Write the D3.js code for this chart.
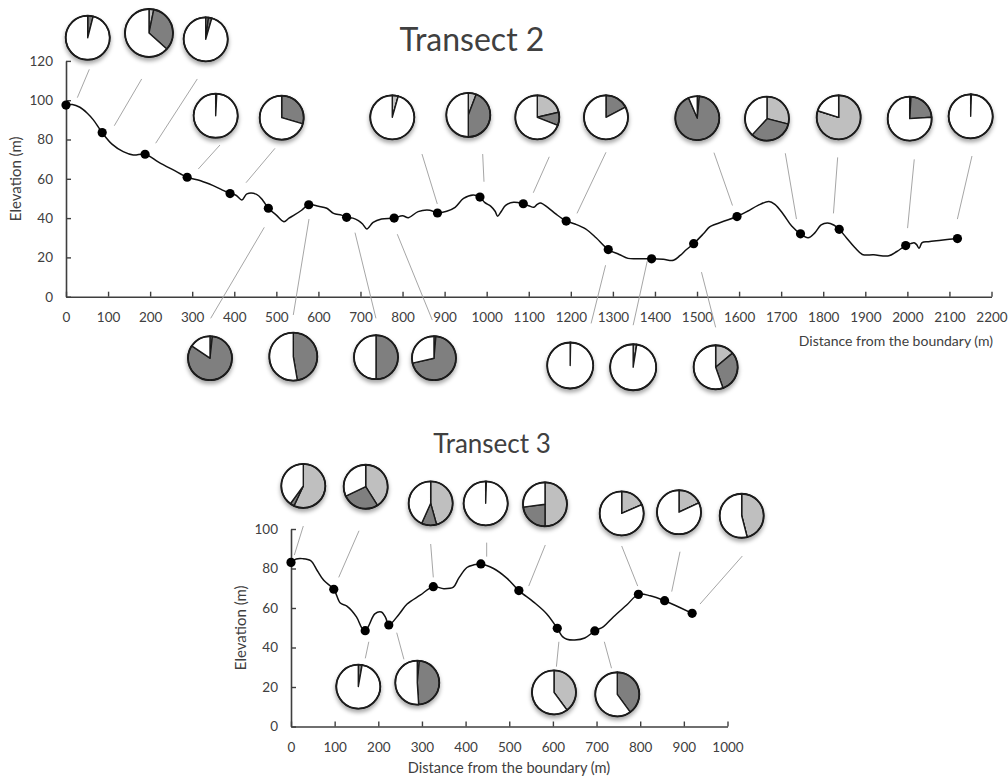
<!DOCTYPE html>
<html>
<head>
<meta charset="utf-8">
<script src="https://cdn.jsdelivr.net/npm/d3@7"></script>
<style>
  body { margin: 0; background: #fff; }
  svg { display: block; }
  text { font-family: Lato, "Open Sans", sans-serif; fill: #404040; }
</style>
</head>
<body>
<svg id="chart" width="1008" height="778"></svg>
<script>
// ---------------- Transect 2 ----------------
// sampled plots along the transect: distance (m) and elevation (m)
const t2SampleDist = [0, 86, 188, 288, 390, 481, 577, 667, 780, 883, 984, 1087, 1189, 1289, 1392, 1492, 1595, 1746, 1838, 1996, 2119];
const t2SampleElev = [97.5, 83.5, 72.5, 60.8, 52.5, 45, 46.8, 40.4, 40, 42.6, 50.7, 47.3, 38.5, 24, 19.3, 27, 40.8, 32, 34.3, 26, 29.6];
// composition at each plot (%): [light grey, dark grey, white]
const t2Composition = [
  [0, 4, 96], [3.2, 33.5, 63.3], [2, 2.5, 95.5], [0, 0.8, 99.2], [0, 29.5, 70.5],
  [1.7, 82.7, 15.6], [0, 47.3, 52.7], [0, 50, 50], [1.4, 70, 28.6], [4.4, 0, 95.6],
  [5.8, 44.2, 50], [21.3, 9.7, 69], [0, 17.3, 82.7], [0, 0.3, 99.7], [2.5, 0, 97.5],
  [13.9, 30.7, 55.4], [1.5, 92, 6.5], [29, 32.8, 38.2], [79.8, 0, 20.2], [1, 23, 76], [0, 0.5, 99.5]
];
// terrain profile vertices [distance, elevation]
const t2Profile = [
  [0,97.5],[15,97.8],[33,96.4],[50,93.5],[65,90],[86,83.5],[110,77.5],[136,73.8],[160,72.1],[188,72.5],
  [220,68.5],[255,64.5],[288,60.8],[320,59],[350,56.5],[375,54],[390,52.5],[405,51.5],[418,49.2],[430,52.3],
  [453,52.1],[468,49],[481,45],[500,41.5],[518,38.2],[530,40],[543,41.6],[560,44],[577,46.8],[600,46],
  [620,45],[636,42.4],[655,41.5],[667,40.4],[682,40],[695,38.7],[705,37],[715,34.5],[730,37.8],[750,39.5],
  [780,40],[800,41.2],[814,40.2],[837,43.3],[865,44],[883,42.6],[905,43.5],[925,45.5],[945,50],[968,51.8],
  [984,50.7],[995,48],[1010,46],[1020,43.5],[1026,41],[1035,43.5],[1045,46.5],[1064,48.1],[1087,47.3],[1100,46.3],
  [1112,45.5],[1120,47],[1128,47.7],[1145,45.5],[1165,42],[1189,38.5],[1210,37],[1235,34.5],[1260,30],[1289,24],
  [1315,21.5],[1336,19.5],[1360,19.3],[1392,19.3],[1420,19],[1444,18.5],[1460,21],[1475,24],[1492,27],[1515,32],
  [1530,35.5],[1544,36.9],[1565,38.5],[1595,40.8],[1620,43.5],[1645,46.5],[1671,48.5],[1685,47],[1705,42],[1725,36],
  [1746,32],[1764,30],[1780,32.5],[1795,36.5],[1810,37.5],[1825,36.5],[1838,34.3],[1855,30],[1875,25],[1893,21.5],
  [1920,21.3],[1956,20.8],[1975,23],[1996,26],[2008,27],[2016,27.5],[2022,26.5],[2028,24.6],[2035,27.5],[2050,28],
  [2080,28.7],[2100,29.2],[2119,29.6]
];
const t2XTicks = d3.range(0, 2201, 100);
const t2YTicks = d3.range(0, 121, 20);

// ---------------- Transect 3 ----------------
const t3SampleDist = [0, 98, 170, 224, 326, 435, 522, 610, 696, 796, 856, 919];
const t3SampleElev = [83.1, 69.5, 48.5, 51.4, 70.8, 82.3, 68.8, 49.7, 48.4, 66.9, 63.7, 57.3];
const t3Composition = [
  [57, 3, 40], [41, 27, 32], [0, 2.8, 97.2], [1.5, 47.5, 51], [45.7, 11, 43.3], [0, 0.5, 99.5],
  [50, 23, 27], [39.9, 0, 60.1], [0, 40, 60], [18.5, 0, 81.5], [18, 0, 82], [46, 0, 54]
];
const t3Profile = [
  [0,83.1],[12,84.8],[26,85],[45,84],[60,79],[75,74],[98,69.5],[113,62.5],[128,61],[150,55.5],
  [162,50],[170,48.5],[178,51],[192,57],[207,58],[217,55],[224,51.4],[248,57],[266,62],[296,66.5],
  [326,70.8],[350,69.8],[372,70.6],[384,75],[403,80.5],[418,81.8],[435,82.3],[464,80],[495,75],[522,68.8],
  [556,63],[586,57],[610,49.7],[622,45.5],[632,44.2],[650,43.8],[673,44.8],[696,48.4],[716,50.6],[739,55.6],
  [769,61.5],[796,66.9],[823,66.2],[856,63.7],[919,57.3]
];
const t3XTicks = d3.range(0, 1001, 100);
const t3YTicks = d3.range(0, 101, 20);

// ---------------- annotation layout (in axis units) ----------------
// pie centre for each plot, and its leader line [[d,e],[d,e]]
const t2PieAt = [
  [51.6,131.8],[197.3,134.2],[332.1,131],[355.8,92.1],[512.7,91.1],[342.3,-31.3],[540.3,-30.5],[736.9,-30.8],
  [874.7,-31.3],[775.6,91.3],[956.3,92.5],[1120.3,91.3],[1283.6,91.3],[1198.5,-35],[1348.2,-35.9],[1544.3,-35.9],
  [1500.6,90.9],[1666.3,90.6],[1836.7,91.3],[2005.5,90.6],[2150.5,91.8]
];
const t2PieRadius = [22,24,22,22,22,22,24,22,22,22,22,22,22,23,23,22,22,22,22,22,22];
const t2Leaders = [
  [[55.4,115.7],[27,101.3]],[[179.9,110.8],[114.8,87]],[[312.1,110.8],[213.2,78.1]],[[366,77.2],[314.5,65]],
  [[496.8,75.5],[427.9,58]],[[471.4,35.3],[343.9,-11]],[[577.6,39.5],[540.3,-9.3]],[[687,32.6],[736.8,-11]],
  [[787.5,31.8],[870.7,-11.9]],[[846.2,72.6],[882.6,47.2]],[[990.5,72.6],[993.6,58.5]],[[1148.8,71.2],[1110.8,52.9]],
  [[1283.6,73.5],[1214.7,42.4]],[[1282.6,16],[1248.2,-13.6]],[[1381.7,18.1],[1348.2,-14.5]],[[1510.6,12.5],[1544.3,-15.6]],
  [[1540.3,73.3],[1584.3,46.4]],[[1709.8,73],[1736.4,39.5]],[[1834.3,70.9],[1824.3,42.4]],[[2016.4,69.9],[2000.5,34.9]],
  [[2153.6,71.6],[2118.9,39.5]]
];
const t3PieAt = [
  [28.2,121.8],[171.1,121.4],[154.2,20.2],[289.3,22.2],[320,113],[446,113],
  [581.9,112.5],[602.5,17.3],[747.5,16.3],[757.6,107.9],[888.9,108.5],[1032.5,106.7]
];
const t3PieRadius = [22,22,22,22,22,22,22,22,22,22,22,22];
const t3Leaders = [
  [[28.2,101.5],[7.6,86.8]],[[155.8,99.1],[109.3,75.5]],[[178.2,42.9],[170.2,34.5]],[[242.2,47.5],[258.7,34]],
  [[320,92.4],[326,75.5]],[[448.3,93.1],[448.3,86]],[[582.6,91.9],[544.6,71.1]],[[613.7,42.9],[608,30.3]],
  [[717.8,42.9],[734.3,29.5]],[[757.6,91.4],[794.3,71.1]],[[891.2,88.5],[872.2,68.3]],[[1033.9,86.3],[937,62]]
];

const sliceColors = ['#bfbfbf', '#7f7f7f', '#ffffff'];
const axisColor = '#3f3f3f';

const svg = d3.select('#chart');
const defs = svg.append('defs');
const shadow = defs.append('filter').attr('id', 'pieShadow')
  .attr('x', '-40%').attr('y', '-40%').attr('width', '180%').attr('height', '190%');
shadow.append('feDropShadow').attr('dx', 0).attr('dy', 3).attr('stdDeviation', 2.2)
  .attr('flood-color', '#000').attr('flood-opacity', 0.35);

function drawTransect(o) {
  const x = d3.scaleLinear().domain([0, o.xMax]).range(o.xRange);
  const y = d3.scaleLinear().domain([0, o.yMax]).range(o.yRange);
  const g = svg.append('g');
  const fmt = d3.format('d');

  // axes with inside ticks
  const gx = g.append('g').attr('transform', `translate(0,${y(0)})`)
    .call(d3.axisBottom(x).tickValues(o.xTicks).tickFormat(fmt).tickSizeInner(-5).tickSizeOuter(0));
  gx.selectAll('text').attr('y', 25).attr('dy', null);
  const gy = g.append('g').attr('transform', `translate(${x(0)},0)`)
    .call(d3.axisLeft(y).tickValues(o.yTicks).tickFormat(fmt).tickSizeInner(-5).tickSizeOuter(0).tickPadding(13));
  [gx, gy].forEach(a => {
    a.select('.domain').attr('stroke', axisColor).attr('stroke-width', 1.6);
    a.selectAll('.tick line').attr('stroke', axisColor).attr('stroke-width', 1.4);
    a.selectAll('text').attr('fill', '#404040')
      .style('font-family', 'Lato, sans-serif').style('font-size', '13.5px');
  });

  // titles
  g.append('text').attr('x', o.titleX).attr('y', o.titleY).attr('text-anchor', 'middle')
    .style('font-size', o.titleSize + 'px').attr('fill', '#262626').text(o.title);
  g.append('text').attr('transform', `translate(${o.yTitleX},${(y(0) + y(o.yMax)) / 2}) rotate(-90)`)
    .attr('text-anchor', 'middle').style('font-size', '15px').text('Elevation (m)');
  g.append('text').attr('x', o.xTitleX).attr('y', o.xTitleY).attr('text-anchor', o.xTitleAnchor)
    .style('font-size', o.xTitleSize + 'px').text('Distance from the boundary (m)');

  // leader lines
  g.append('g').selectAll('line').data(o.leaders).join('line')
    .attr('x1', d => x(d[0][0])).attr('y1', d => y(d[0][1]))
    .attr('x2', d => x(d[1][0])).attr('y2', d => y(d[1][1]))
    .attr('stroke', '#a6a6a6').attr('stroke-width', 1);

  // terrain profile
  const line = d3.line().x(d => x(d[0])).y(d => y(d[1])).curve(d3.curveCatmullRom.alpha(0.5));
  g.append('path').datum(o.profile).attr('d', line)
    .attr('fill', 'none').attr('stroke', '#111').attr('stroke-width', 1.5);

  // plot markers
  g.append('g').selectAll('circle').data(d3.zip(o.dist, o.elev)).join('circle')
    .attr('cx', d => x(d[0])).attr('cy', d => y(d[1])).attr('r', 4.6).attr('fill', '#000');

  // composition pies
  const pie = d3.pie().sort(null).value(d => d);
  o.comp.forEach((c, i) => {
    const r = o.radius[i];
    const arc = d3.arc().innerRadius(0).outerRadius(r);
    const pg = g.append('g')
      .attr('transform', `translate(${x(o.pieAt[i][0])},${y(o.pieAt[i][1])})`)
      .attr('filter', 'url(#pieShadow)');
    pg.selectAll('path').data(pie(c)).join('path')
      .attr('d', arc).attr('fill', (d, j) => sliceColors[j])
      .attr('stroke', '#1a1a1a').attr('stroke-width', 1.4).attr('stroke-linejoin', 'round');
    pg.append('circle').attr('r', r).attr('fill', 'none')
      .attr('stroke', '#1a1a1a').attr('stroke-width', 1.8);
  });
}

drawTransect({
  title: 'Transect 2', titleX: 472, titleY: 51, titleSize: 32,
  xMax: 2200, yMax: 120, xRange: [66, 991.5], yRange: [296.7, 60.9],
  xTicks: t2XTicks, yTicks: t2YTicks,
  yTitleX: 21, xTitleX: 993, xTitleY: 346, xTitleAnchor: 'end', xTitleSize: 14,
  dist: t2SampleDist, elev: t2SampleElev, profile: t2Profile, comp: t2Composition,
  pieAt: t2PieAt, radius: t2PieRadius, leaders: t2Leaders
});

drawTransect({
  title: 'Transect 3', titleX: 492, titleY: 453, titleSize: 26,
  xMax: 1000, yMax: 100, xRange: [291, 727.5], yRange: [726.5, 529],
  xTicks: t3XTicks, yTicks: t3YTicks,
  yTitleX: 246, xTitleX: 509, xTitleY: 773, xTitleAnchor: 'middle', xTitleSize: 14.6,
  dist: t3SampleDist, elev: t3SampleElev, profile: t3Profile, comp: t3Composition,
  pieAt: t3PieAt, radius: t3PieRadius, leaders: t3Leaders
});
</script>
</body>
</html>
